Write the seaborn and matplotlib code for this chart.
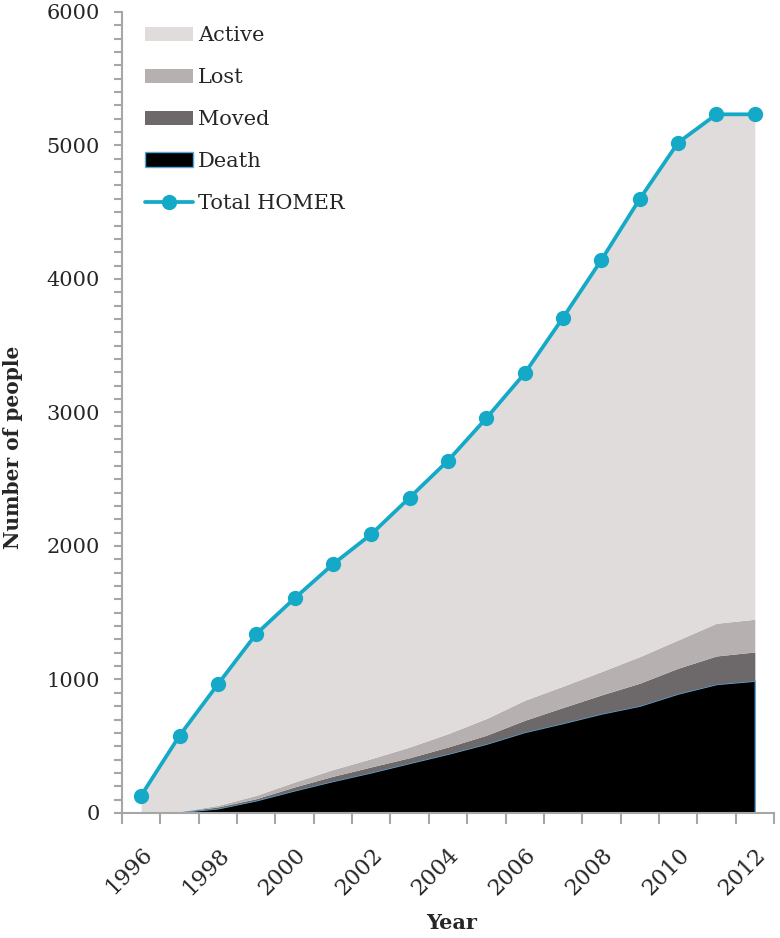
import numpy as np
import pandas as pd
import matplotlib
matplotlib.use("Agg")
import matplotlib.pyplot as plt
from matplotlib.patches import Patch
from matplotlib.lines import Line2D
from matplotlib.ticker import MultipleLocator, FixedLocator
import seaborn as sns

# Data
years = list(range(1996, 2013))
total_homer = [130, 579, 964, 1341, 1608, 1863, 2088, 2362, 2639, 2957, 3293, 3710, 4142, 4599, 5021, 5233, 5233]
death = [0, 8, 35, 95, 170, 240, 305, 375, 444, 519, 607, 674, 745, 804, 895, 966, 991]
moved = [0, 0, 10, 12, 25, 35, 40, 39, 50, 63, 87, 116, 139, 168, 189, 210, 215]
lost = [0, 2, 12, 25, 37, 50, 62, 80, 100, 125, 150, 160, 175, 199, 212, 245, 245]

df = pd.DataFrame({"Year": years, "Total HOMER": total_homer,
                   "Death": death, "Moved": moved, "Lost": lost})
df["Active"] = df["Total HOMER"] - df["Death"] - df["Moved"] - df["Lost"]
df["pos"] = np.arange(len(df))

# Colours
c_active = "#e0dcdc"
c_lost = "#b6b1b0"
c_moved = "#6d6869"
c_death = "#000000"
c_line = "#15a9c8"
c_axis = "#a6a6a6"

sns.set_style("ticks")
plt.rcParams["font.family"] = ["DejaVu Serif"]

fig = plt.figure(figsize=(7.8, 9.38), dpi=100)
ax = fig.add_axes([0.1564, 0.1333, 0.8359, 0.854])

# Stacked areas
polys = ax.stackplot(df["pos"], df["Death"], df["Moved"], df["Lost"], df["Active"],
                     colors=[c_death, c_moved, c_lost, c_active], linewidth=0)
polys[0].set_edgecolor("#5aa6d6")
polys[0].set_linewidth(1.0)

# Total line with markers
sns.lineplot(x="pos", y="Total HOMER", data=df, ax=ax, color=c_line, linewidth=2.7,
             marker="o", markersize=11, markeredgewidth=0, legend=False)

# Axes styling
ax.set_xlim(-0.5, len(df) - 0.5)
ax.set_ylim(0, 6000)
sns.despine(ax=ax)
for side in ["left", "bottom"]:
    ax.spines[side].set_color(c_axis)
    ax.spines[side].set_linewidth(1.5)

ax.yaxis.set_major_locator(MultipleLocator(1000))
ax.yaxis.set_minor_locator(MultipleLocator(100))
ax.tick_params(axis="y", which="both", direction="out", length=6, width=1.5,
               color=c_axis, labelsize=15, pad=10)

# x: tick marks between categories, labels on every second year
ax.xaxis.set_major_locator(FixedLocator(np.arange(-0.5, len(df), 1.0)))
ax.set_xticklabels([])
ax.xaxis.set_minor_locator(FixedLocator(df["pos"][::2]))
ax.set_xticklabels([str(y) for y in years[::2]], minor=True, rotation=45,
                   ha="right", va="top", rotation_mode="anchor")
ax.tick_params(axis="x", which="major", direction="out", length=8, width=1.5, color=c_axis)
ax.tick_params(axis="x", which="minor", length=0, labelsize=16, pad=22)

ax.set_ylabel("Number of people", fontsize=14.5, fontweight="bold")
ax.yaxis.set_label_coords(-0.152, 0.457)
ax.set_xlabel("Year", fontsize=15, fontweight="bold")
ax.xaxis.set_label_coords(0.506, -0.125)

handles = [
    Patch(facecolor=c_active, edgecolor="none", label="Active"),
    Patch(facecolor=c_lost, edgecolor="none", label="Lost"),
    Patch(facecolor=c_moved, edgecolor="none", label="Moved"),
    Patch(facecolor=c_death, edgecolor="#5aa6d6", linewidth=1, label="Death"),
    Line2D([0], [0], color=c_line, linewidth=2.7, marker="o", markersize=11,
           markeredgewidth=0, label="Total HOMER"),
]
ax.legend(handles=handles, loc="upper left", bbox_to_anchor=(0.035, 0.982),
          frameon=False, fontsize=15, handlelength=2.3, handletextpad=0.25,
          labelspacing=1.1, borderpad=0, borderaxespad=0)

plt.savefig("out.png", dpi=100)
